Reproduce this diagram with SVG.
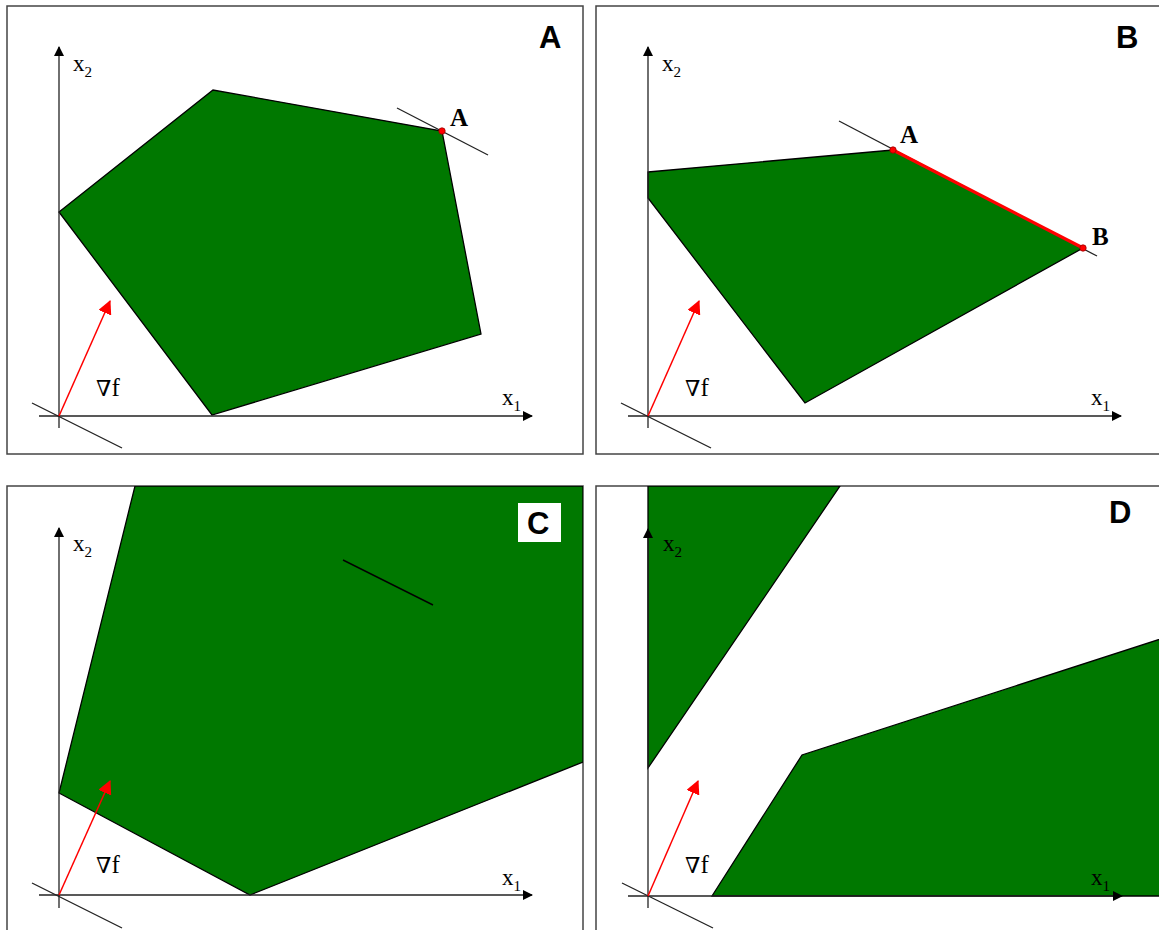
<svg xmlns="http://www.w3.org/2000/svg" width="1159" height="930" viewBox="0 0 1159 930">
<defs>
<marker id="ah" viewBox="0 0 10 10" refX="9" refY="5" markerWidth="10" markerHeight="10" markerUnits="userSpaceOnUse" orient="auto"><path d="M0,0 L10,5 L0,10 z" fill="#000"/></marker>
<marker id="rh" viewBox="0 0 12 12" refX="11" refY="6" markerWidth="14" markerHeight="14" markerUnits="userSpaceOnUse" orient="auto"><path d="M0,0 L12,6 L0,12 z" fill="#f00"/></marker>
<clipPath id="cpC"><rect x="7" y="486" width="576" height="460"/></clipPath>
<clipPath id="cpD"><rect x="596" y="486" width="576" height="460"/></clipPath>
</defs>
<style>
.frame{fill:#fff;stroke:#444;stroke-width:1.5}
.poly{fill:#007800;stroke:#000;stroke-width:1.3}
.ax{stroke:#222;stroke-width:1.3;fill:none}
.tan{stroke:#222;stroke-width:1.3;fill:none}
.grad{stroke:#f00;stroke-width:1.5;fill:none}
.lbl{font-family:"Liberation Serif",serif;font-size:23px;fill:#000}
.sub{font-size:15px}
.nab{font-family:"DejaVu Serif","Liberation Serif",serif;font-size:22px;font-weight:normal}
.nf{font-family:"Liberation Serif",serif;font-size:25px;fill:#000}
.pt{font-family:"Liberation Serif",serif;font-size:25px;font-weight:bold;fill:#000}
.pn{font-family:"Liberation Sans",sans-serif;font-size:31px;font-weight:bold;fill:#000}
.dot{fill:#f00;stroke:#900;stroke-width:0.8}
</style>
<rect width="1159" height="930" fill="#fff"/>

<g id="panelA">
<rect class="frame" x="7" y="6" width="576" height="448"/>
<polygon class="poly" points="59,212 213,90 442,131 481,334 212,415"/>
<line class="tan" x1="397" y1="108" x2="488" y2="155"/>
<circle class="dot" cx="442" cy="131" r="3.2"/>
<text class="pt" x="450" y="126">A</text>
<text class="pn" x="539" y="48">A</text>
</g>

<g id="panelB">
<rect class="frame" x="596" y="6" width="576" height="448"/>
<polygon class="poly" points="648,172 893,150 1083,248 805,403 648,198"/>
<line class="tan" x1="839" y1="121" x2="1097" y2="256"/>
<line x1="893" y1="150" x2="1083" y2="248" stroke="#f00" stroke-width="3.2"/>
<circle class="dot" cx="893" cy="150" r="3.2"/>
<circle class="dot" cx="1083" cy="248" r="3.2"/>
<text class="pt" x="900" y="143">A</text>
<text class="pt" x="1092" y="245">B</text>
<text class="pn" x="1116" y="48">B</text>
</g>

<g id="panelC">
<rect class="frame" x="7" y="486" width="576" height="460"/>
<polygon class="poly" clip-path="url(#cpC)" points="135,486 59,793 250,895 583,762 583,486"/>
<line x1="343" y1="560" x2="433" y2="605" stroke="#000" stroke-width="1.5"/>
<rect x="518" y="503" width="43" height="39" fill="#fff"/>
<text class="pn" x="527" y="534">C</text>
</g>

<g id="panelD">
<rect class="frame" x="596" y="486" width="576" height="460"/>
<g clip-path="url(#cpD)">
<polygon class="poly" points="648,486 840,486 648,768"/>
<polygon class="poly" points="712,896 802,755 1170,636 1170,896"/>
</g>
<text class="pn" x="1109" y="523">D</text>
</g>

<g id="connectors">
<line class="ax" x1="59" y1="428" x2="59" y2="47" marker-end="url(#ah)"/>
<line class="ax" x1="39" y1="416" x2="532" y2="416" marker-end="url(#ah)"/>
<line class="tan" x1="32" y1="403" x2="122" y2="448"/>
<line class="grad" x1="59" y1="416" x2="110" y2="301" marker-end="url(#rh)"/>
<line class="ax" x1="648" y1="428" x2="648" y2="47" marker-end="url(#ah)"/>
<line class="ax" x1="628" y1="416" x2="1121" y2="416" marker-end="url(#ah)"/>
<line class="tan" x1="621" y1="403" x2="711" y2="448"/>
<line class="grad" x1="648" y1="416" x2="699" y2="301" marker-end="url(#rh)"/>
<line class="ax" x1="59" y1="908" x2="59" y2="528" marker-end="url(#ah)"/>
<line class="ax" x1="39" y1="895" x2="532" y2="895" marker-end="url(#ah)"/>
<line class="tan" x1="32" y1="883" x2="122" y2="928"/>
<line class="grad" x1="59" y1="895" x2="110" y2="781" marker-end="url(#rh)"/>
<line class="ax" x1="648" y1="908" x2="648" y2="529" marker-end="url(#ah)"/>
<line class="ax" x1="628" y1="896" x2="1122" y2="896" marker-end="url(#ah)"/>
<line class="tan" x1="622" y1="883" x2="713" y2="928"/>
<line class="grad" x1="648" y1="896" x2="698" y2="781" marker-end="url(#rh)"/>
</g>

<g id="labels">
<text class="lbl" x="73" y="71">x<tspan class="sub" dy="6">2</tspan></text>
<text class="lbl" x="502" y="405">x<tspan class="sub" dy="6">1</tspan></text>
<text class="nf" x="96" y="396"><tspan class="nab">∇</tspan>f</text>
<text class="lbl" x="662" y="71">x<tspan class="sub" dy="6">2</tspan></text>
<text class="lbl" x="1091" y="405">x<tspan class="sub" dy="6">1</tspan></text>
<text class="nf" x="685" y="396"><tspan class="nab">∇</tspan>f</text>
<text class="lbl" x="73" y="551">x<tspan class="sub" dy="6">2</tspan></text>
<text class="lbl" x="502" y="885">x<tspan class="sub" dy="6">1</tspan></text>
<text class="nf" x="96" y="873"><tspan class="nab">∇</tspan>f</text>
<text class="lbl" x="663" y="551">x<tspan class="sub" dy="6">2</tspan></text>
<text class="lbl" x="1091" y="885">x<tspan class="sub" dy="6">1</tspan></text>
<text class="nf" x="685" y="873"><tspan class="nab">∇</tspan>f</text>
</g>
</svg>
